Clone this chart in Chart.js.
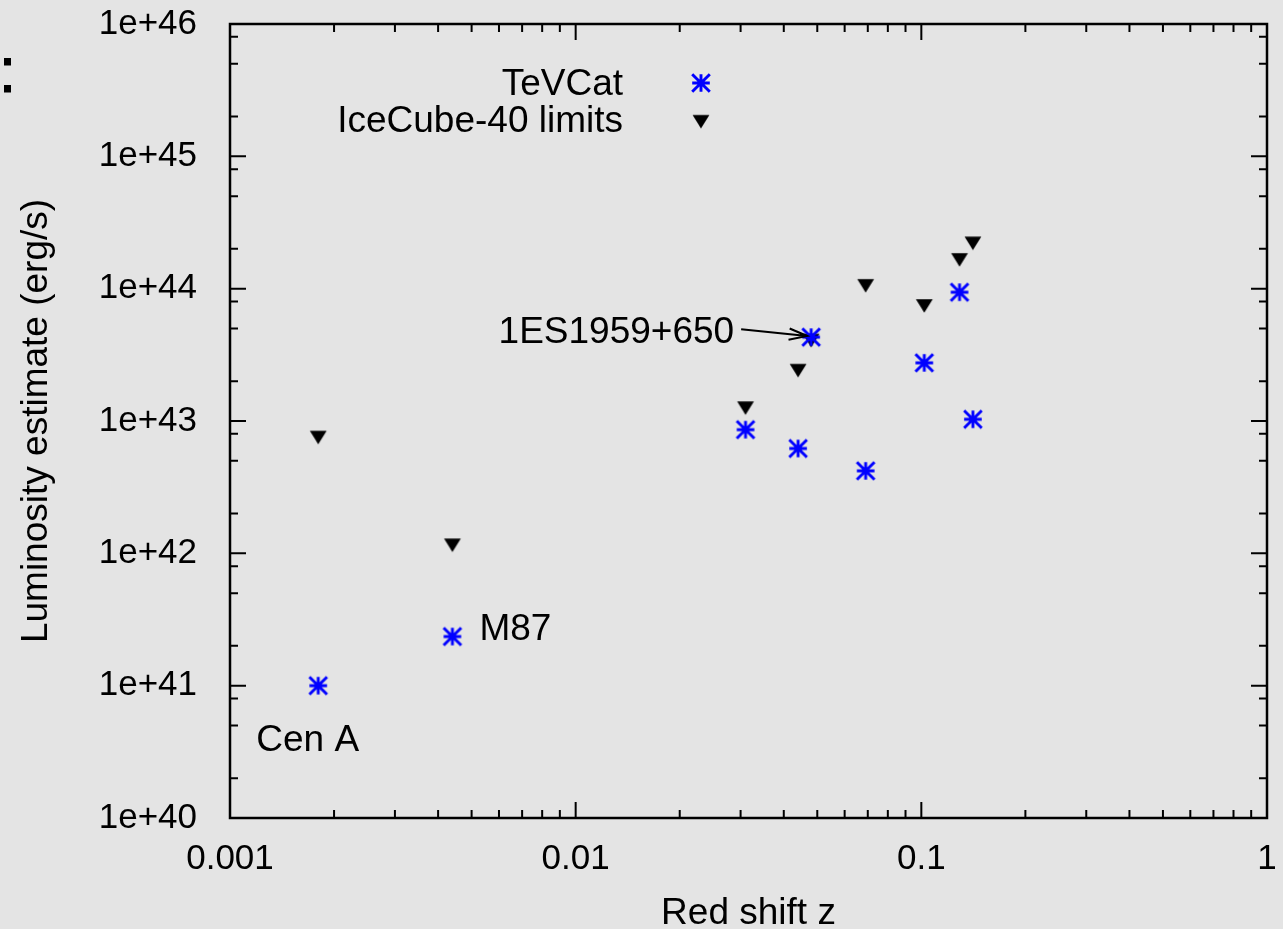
<!DOCTYPE html>
<html>
<head>
<meta charset="utf-8">
<script src="https://cdn.jsdelivr.net/npm/chart.js@4/dist/chart.umd.min.js"></script>
<style>
html,body{margin:0;padding:0;background:#e4e4e4;overflow:hidden;}
#c{display:block;}
</style>
</head>
<body>
<canvas id="c" width="1283" height="929"></canvas>
<script>
// ---- data ----
const seriesNames = ['TeVCat', 'IceCube-40 limits'];
const redshiftTeVCat = [0.0018, 0.0044, 0.031, 0.044, 0.048, 0.069, 0.102, 0.129, 0.141];
const lumTeVCat      = [1.0e41, 2.35e41, 8.6e42, 6.2e42, 4.3e43, 4.2e42, 2.75e43, 9.4e43, 1.03e43];
const redshiftIceCube = [0.0018, 0.0044, 0.031, 0.044, 0.048, 0.069, 0.102, 0.129, 0.141];
const lumIceCube      = [7.5e42, 1.15e42, 1.25e43, 2.4e43, 4.05e43, 1.05e44, 7.4e43, 1.65e44, 2.2e44];
const xTickValues = [0.001, 0.01, 0.1, 1];
const xTickLabels = ['0.001', '0.01', '0.1', '1'];
const yTickValues = [1e40, 1e41, 1e42, 1e43, 1e44, 1e45, 1e46];
const yTickLabels = ['1e+40', '1e+41', '1e+42', '1e+43', '1e+44', '1e+45', '1e+46'];
const xMinorMantissas = [2, 3, 4, 5, 6, 7, 8, 9];
const yMinorMantissas = [2, 5, 8];
const sourceLabels = ['Cen A', 'M87', '1ES1959+650'];
const sourceIndex  = [0, 1, 4];
const xTitle = 'Red shift z';
const yTitle = 'Luminosity estimate (erg/s)';

const FONT = '"Liberation Sans", Arial, Helvetica, sans-serif';

function makeAsterisk() {
  const c = document.createElement('canvas');
  c.width = 24; c.height = 24;
  const g = c.getContext('2d');
  g.strokeStyle = '#0000ff'; g.lineWidth = 2.9;
  const h = 8.8, cx = 12, cy = 12;
  g.beginPath();
  g.moveTo(cx - h, cy); g.lineTo(cx + h, cy);
  g.moveTo(cx, cy - h); g.lineTo(cx, cy + h);
  g.moveTo(cx - h, cy - h); g.lineTo(cx + h, cy + h);
  g.moveTo(cx - h, cy + h); g.lineTo(cx + h, cy - h);
  g.stroke();
  return c;
}
function makeTriangle() {
  const c = document.createElement('canvas');
  c.width = 20; c.height = 20;
  const g = c.getContext('2d');
  g.fillStyle = '#000';
  g.beginPath();
  g.moveTo(10 - 8.4, 10 - 6.8);
  g.lineTo(10 + 8.4, 10 - 6.8);
  g.lineTo(10, 10 + 6.8);
  g.closePath();
  g.fill();
  return c;
}
const asterisk = makeAsterisk();
const triangle = makeTriangle();

const framePlugin = {
  id: 'frame',
  beforeDraw(chart) {
    const c = chart.ctx;
    c.save();
    c.fillStyle = '#e4e4e4';
    c.fillRect(0, 0, chart.width, chart.height);
    c.restore();
  },
  afterDraw(chart) {
    const ctx = chart.ctx;
    const a = chart.chartArea;
    const x = chart.scales.x, y = chart.scales.y;
    ctx.save();
    // ticks (inward, mirrored)
    ctx.strokeStyle = '#000';
    ctx.lineWidth = 2;
    ctx.beginPath();
    const MAJ = 16, MIN = 8;
    xTickValues.forEach(v => {
      const px = x.getPixelForValue(v);
      ctx.moveTo(px, a.bottom); ctx.lineTo(px, a.bottom - MAJ);
      ctx.moveTo(px, a.top); ctx.lineTo(px, a.top + MAJ);
    });
    for (let i = 0; i < xTickValues.length - 1; i++) {
      xMinorMantissas.forEach(m => {
        const px = x.getPixelForValue(m * xTickValues[i]);
        ctx.moveTo(px, a.bottom); ctx.lineTo(px, a.bottom - MIN);
        ctx.moveTo(px, a.top); ctx.lineTo(px, a.top + MIN);
      });
    }
    yTickValues.forEach(v => {
      const py = y.getPixelForValue(v);
      ctx.moveTo(a.left, py); ctx.lineTo(a.left + MAJ, py);
      ctx.moveTo(a.right, py); ctx.lineTo(a.right - MAJ, py);
    });
    for (let i = 0; i < yTickValues.length - 1; i++) {
      yMinorMantissas.forEach(m => {
        const py = y.getPixelForValue(m * yTickValues[i]);
        ctx.moveTo(a.left, py); ctx.lineTo(a.left + MIN, py);
        ctx.moveTo(a.right, py); ctx.lineTo(a.right - MIN, py);
      });
    }
    ctx.stroke();
    // frame
    ctx.lineWidth = 2.5;
    ctx.strokeRect(a.left, a.top, a.right - a.left, a.bottom - a.top);

    // source annotations
    ctx.fillStyle = '#000';
    ctx.font = '37px ' + FONT;
    ctx.textBaseline = 'alphabetic';
    const px = i => x.getPixelForValue(redshiftTeVCat[i]);
    const py = i => y.getPixelForValue(lumTeVCat[i]);
    // Cen A
    ctx.textAlign = 'left';
    ctx.fillText(sourceLabels[0], px(sourceIndex[0]) - 62, py(sourceIndex[0]) + 65);
    // M87
    ctx.fillText(sourceLabels[1], px(sourceIndex[1]) + 27, py(sourceIndex[1]) + 3);
    // 1ES1959+650 with arrow
    const ax = px(sourceIndex[2]), ay = py(sourceIndex[2]);
    ctx.textAlign = 'right';
    ctx.fillText(sourceLabels[2], ax - 77, ay + 5.5);
    const sx = ax - 70, sy = ay - 8, tx = ax - 4, ty = ay - 1.2;
    ctx.lineWidth = 2;
    ctx.beginPath();
    ctx.moveTo(sx, sy); ctx.lineTo(tx, ty);
    const ang = Math.atan2(ty - sy, tx - sx), hl = 19, hw = 0.3;
    ctx.moveTo(tx - hl * Math.cos(ang - hw), ty - hl * Math.sin(ang - hw));
    ctx.lineTo(tx, ty);
    ctx.lineTo(tx - hl * Math.cos(ang + hw), ty - hl * Math.sin(ang + hw));
    ctx.stroke();

    // legend
    ctx.textAlign = 'right';
    ctx.fillText(seriesNames[0], 623, 95);
    ctx.fillText(seriesNames[1], 623, 132);
    ctx.drawImage(asterisk, 701 - asterisk.width / 2, 83 - asterisk.height / 2);
    ctx.drawImage(triangle, 701 - triangle.width / 2, 121.7 - triangle.height / 2);

    // clipped remnant at left edge
    ctx.fillRect(4, 58, 7, 7.5);
    ctx.fillRect(4, 85, 7, 7.5);
    ctx.restore();
  }
};

new Chart(document.getElementById('c'), {
  type: 'scatter',
  data: {
    datasets: [
      {
        label: seriesNames[0],
        data: redshiftTeVCat.map((z, i) => ({ x: z, y: lumTeVCat[i] })),
        pointStyle: asterisk,
        pointRadius: 9,
        pointHoverRadius: 9,
        backgroundColor: '#0000ff',
        borderColor: '#0000ff'
      },
      {
        label: seriesNames[1],
        data: redshiftIceCube.map((z, i) => ({ x: z, y: lumIceCube[i] })),
        pointStyle: triangle,
        pointRadius: 9,
        pointHoverRadius: 9,
        backgroundColor: '#000',
        borderColor: '#000'
      }
    ]
  },
  options: {
    responsive: false,
    animation: false,
    devicePixelRatio: 1,
    layout: { padding: { top: 24, right: 16, bottom: 0, left: 0 } },
    plugins: { legend: { display: false }, tooltip: { enabled: false } },
    scales: {
      x: {
        type: 'logarithmic',
        position: 'bottom',
        min: 0.001, max: 1,
        grid: { display: false },
        border: { display: false },
        afterBuildTicks: s => { s.ticks = xTickValues.map(v => ({ value: v })); },
        afterFit: s => { s.height = 111; s.paddingLeft = 0; s.paddingRight = 0; s.paddingTop = 0; s.paddingBottom = 0; },
        ticks: {
          autoSkip: false, maxRotation: 0, minRotation: 0,
          padding: 12,
          color: '#000',
          font: { family: FONT, size: 35 },
          callback: (v, i) => xTickLabels[i]
        },
        title: {
          display: true, text: xTitle, color: '#000',
          font: { family: FONT, size: 37, lineHeight: 0.84 },
          padding: { top: 0, bottom: 0 }
        }
      },
      y: {
        type: 'logarithmic',
        position: 'left',
        min: 1e40, max: 1e46,
        grid: { display: false },
        border: { display: false },
        afterBuildTicks: s => { s.ticks = yTickValues.map(v => ({ value: v })); },
        afterFit: s => { s.width = 230; s.paddingLeft = 0; s.paddingRight = 0; s.paddingTop = 0; s.paddingBottom = 0; },
        ticks: {
          autoSkip: false,
          padding: 25,
          color: '#000',
          font: { family: FONT, size: 35 },
          callback: (v, i) => yTickLabels[i]
        },
        title: {
          display: true, text: yTitle, color: '#000',
          font: { family: FONT, size: 37, lineHeight: 1.2 },
          padding: { top: 15, bottom: 0 }
        }
      }
    }
  },
  plugins: [framePlugin]
});
</script>
</body>
</html>
